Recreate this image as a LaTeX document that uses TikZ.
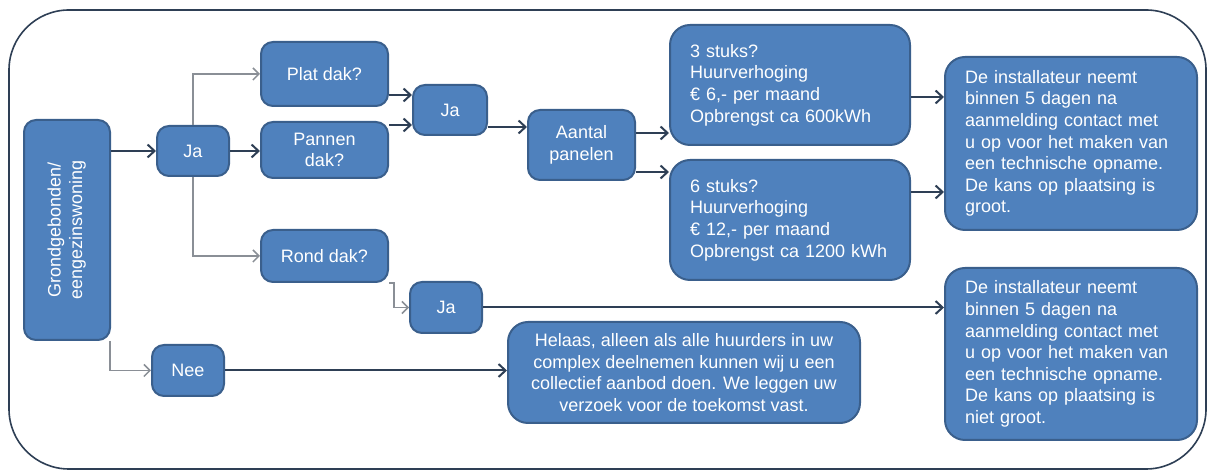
\documentclass[tikz,border=0pt]{standalone}
\usepackage{fontspec}
\setmainfont{Liberation Sans}
\usetikzlibrary{arrows.meta}
\definecolor{vulblauw}{HTML}{4F81BD}
\definecolor{randblauw}{HTML}{3A5F8C}
\definecolor{lijndonker}{HTML}{2E3F55}
\definecolor{lijnlicht}{HTML}{8A8F96}
\begin{document}
\begin{tikzpicture}[x=0.5pt,y=-0.5pt,
    blok/.style={draw=randblauw,line width=1pt,fill=vulblauw,text=white,
      rounded corners=6pt,inner sep=2pt,align=center,
      font=\fontsize{9}{10.8}\selectfont},
    groot blok/.style={blok,rounded corners=10pt},
    donker/.style={draw=lijndonker,line width=1pt,-{Straight Barb[length=3.5pt,width=6.5pt]}},
    licht/.style={draw=lijnlicht,line width=0.75pt,-{Straight Barb[length=3pt,width=6pt]}}]
  \useasboundingbox (0,0) rectangle (1209,474);
  \draw[lijndonker,line width=0.8pt,rounded corners=30pt] (9,10) rectangle (1206,469);
  \node[blok,minimum width=43pt,minimum height=110pt] (grond) at (67,230)
    {\rotatebox{90}{\begin{tabular}{@{}c@{}}Grondgebonden/\\eengezinswoning\end{tabular}}};
  \node[blok,minimum width=36pt,minimum height=25pt] (ja1) at (193,151) {Ja};
  \node[blok,minimum width=63.5pt,minimum height=32pt] (plat) at (324.5,74) {Plat dak?};
  \node[blok,minimum width=63.5pt,minimum height=28pt] (pannen) at (324.5,150) {Pannen\\dak?};
  \node[blok,minimum width=63.5pt,minimum height=26pt] (rond) at (324.5,256) {Rond dak?};
  \node[blok,minimum width=36pt,minimum height=25.5pt] (nee) at (188,370.5) {Nee};
  \node[blok,minimum width=37pt,minimum height=25pt] (ja2) at (450,110) {Ja};
  \node[blok,minimum width=53.5pt,minimum height=35pt] (aantal) at (581.5,145) {Aantal\\panelen};
  \node[groot blok,minimum width=120pt,minimum height=60pt,text width=100pt,align=left] (drie) at (790,85)
    {3 stuks?\\Huurverhoging\\€ 6,- per maand\\Opbrengst ca 600kWh};
  \node[groot blok,minimum width=120pt,minimum height=60pt,text width=100pt,align=left] (zes) at (790,220)
    {6 stuks?\\Huurverhoging\\€ 12,- per maand\\Opbrengst ca 1200 kWh};
  \node[groot blok,minimum width=126pt,minimum height=86.5pt,text width=106pt,align=left] (groot) at (1071,143.5)
    {De installateur neemt\\binnen 5 dagen na\\aanmelding contact met\\u op voor het maken van\\een technische opname.\\De kans op plaatsing is\\groot.};
  \node[groot blok,minimum width=126pt,minimum height=86pt,text width=106pt,align=left] (nietgroot) at (1071,354)
    {De installateur neemt\\binnen 5 dagen na\\aanmelding contact met\\u op voor het maken van\\een technische opname.\\De kans op plaatsing is\\niet groot.};
  \node[blok,minimum width=36pt,minimum height=25.5pt] (ja3) at (446,307.5) {Ja};
  \node[groot blok,minimum width=176pt,minimum height=50.5pt] (helaas) at (684,372.5)
    {Helaas, alleen als alle huurders in uw\\complex deelnemen kunnen wij u een\\collectief aanbod doen. We leggen uw\\verzoek voor de toekomst vast.};
  \draw[donker] (grond.east |- ja1.west) -- (ja1.west);
  \draw[licht] ([xshift=-0.5pt]grond.south east) |- (nee.west);
  \draw[licht] (ja1.north) |- (plat.west);
  \draw[donker] (ja1.east) -- (ja1.east -| pannen.west);
  \draw[licht] (ja1.south) |- (rond.west);
  \draw[donker] ([yshift=-10.5pt]plat.east) -- ([yshift=-10.5pt]plat.east -| ja2.west);
  \draw[donker] ([yshift=12.5pt]pannen.east) -- ([yshift=12.5pt]pannen.east -| ja2.west);
  \draw[donker] ([yshift=-8.5pt]ja2.east) -- ([yshift=-8.5pt]ja2.east -| aantal.west);
  \draw[donker] ([yshift=6pt]aantal.east) -- ([yshift=6pt]aantal.east -| drie.west);
  \draw[donker] ([yshift=-13.5pt]aantal.east) -- ([yshift=-13.5pt]aantal.east -| zes.west);
  \draw[donker] ([yshift=-6pt]drie.east) -- ([yshift=-6pt]drie.east -| groot.west);
  \draw[donker] ([yshift=14pt]zes.east) -- ([yshift=14pt]zes.east -| groot.west);
  \draw[licht] (rond.south east) -- ++(2.5pt,0) |- (ja3.west);
  \draw[donker] (ja3.east) -- (ja3.east -| nietgroot.west);
  \draw[donker] (nee.east) -- (nee.east -| helaas.west);
\end{tikzpicture}
\end{document}
